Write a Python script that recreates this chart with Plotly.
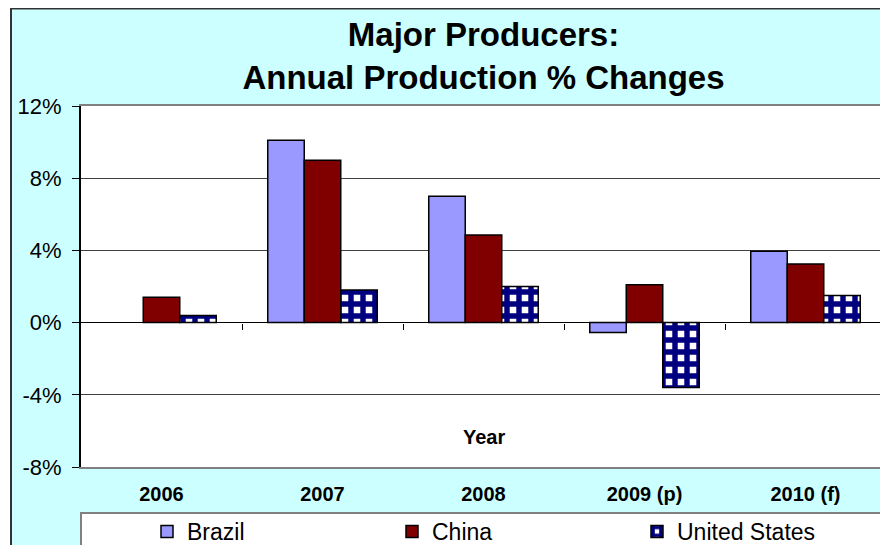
import plotly.graph_objects as go

# data (annual % change)
years = ["2006", "2007", "2008", "2009 (p)", "2010 (f)"]
brazil = [None, 10.1, 7.0, -0.55, 3.95]
china = [1.4, 9.0, 4.85, 2.1, 3.25]
united_states = [0.4, 1.8, 2.0, -3.6, 1.5]

y_ticks = [-8, -4, 0, 4, 8, 12]
y_tick_labels = ["-8%", "-4%", "0%", "4%", "8%", "12%"]

FONT = "Liberation Sans, Arial, sans-serif"

# the page body keeps its default 8px margin, so the figure starts at (8, 8)
# of the 888x545 window; layout is measured in window pixels and shifted
OFF = 8
W, H = 888 - OFF, 545 - OFF
PL, PR, PT, PB = 81 - OFF, 886 - OFF, 106 - OFF, 467 - OFF


def px_x(x):
    # window x pixel -> paper fraction
    return (x - OFF - PL) / (PR - PL)


def px_y(y):
    # window y pixel -> paper fraction
    return (PB - (y - OFF)) / (PB - PT)


fig = go.Figure()

fig.add_trace(
    go.Bar(
        x=years,
        y=brazil,
        name="Brazil",
        marker=dict(color="#9999FF", line=dict(color="black", width=1.5)),
    )
)
fig.add_trace(
    go.Bar(
        x=years,
        y=china,
        name="China",
        marker=dict(color="#800000", line=dict(color="black", width=1.5)),
    )
)
fig.add_trace(
    go.Bar(
        x=years,
        y=united_states,
        name="United States",
        marker=dict(
            color="white",
            line=dict(color="black", width=1.5),
            pattern=dict(
                shape="+",
                fgcolor="#000080",
                bgcolor="white",
                size=12,
                solidity=0.7,
                fillmode="replace",
            ),
        ),
    )
)

# empty trace so the tick-only axis on the zero line gets drawn
fig.add_trace(
    go.Scatter(x=[], y=[], xaxis="x2", showlegend=False, hoverinfo="skip")
)

fig.update_layout(
    width=W,
    height=H,
    margin=dict(l=PL, r=W - PR, t=PT, b=H - PB),
    paper_bgcolor="white",
    plot_bgcolor="rgba(0,0,0,0)",
    font=dict(family=FONT, color="black"),
    barmode="group",
    bargap=0.32,
    bargroupgap=0,
    title=dict(
        text="Major Producers:<br>Annual Production % Changes",
        font=dict(size=33, weight="bold", color="black"),
        x=0.5,
        xref="paper",
        xanchor="center",
        y=1 - 38 / H,
        yref="container",
        yanchor="middle",
    ),
    xaxis=dict(
        type="category",
        showline=True,
        linecolor="#808080",
        linewidth=2,
        mirror=True,
        ticks="",
        showgrid=False,
        tickfont=dict(size=20, weight="bold"),
        ticklabelstandoff=8,
    ),
    xaxis2=dict(
        overlaying="x",
        anchor="free",
        position=px_y(322.6),
        range=[-0.5, len(years) - 0.5],
        tickvals=[i + 0.5 for i in range(len(years) - 1)],
        showticklabels=False,
        ticks="outside",
        ticklen=6,
        tickcolor="black",
        tickwidth=1,
        showgrid=False,
        showline=False,
        zeroline=False,
    ),
    yaxis=dict(
        range=[-8, 12],
        tickvals=y_ticks,
        ticktext=y_tick_labels,
        ticks="outside",
        ticklen=7,
        tickcolor="black",
        tickwidth=1,
        showline=True,
        linecolor="black",
        linewidth=2,
        showgrid=True,
        gridcolor="#404040",
        gridwidth=1,
        zeroline=True,
        zerolinecolor="black",
        zerolinewidth=1,
        tickfont=dict(size=22),
        ticklabelstandoff=6,
    ),
    legend=dict(
        orientation="h",
        xref="container",
        yref="container",
        x=(147 - OFF) / W,
        y=1 - (510 - OFF) / H,
        xanchor="left",
        yanchor="top",
        bgcolor="rgba(0,0,0,0)",
        borderwidth=0,
        font=dict(size=23),
        entrywidth=200,
        traceorder="normal",
    ),
    annotations=[
        dict(
            text="Year",
            x=0.5,
            xref="paper",
            y=px_y(437),
            yref="paper",
            showarrow=False,
            font=dict(size=20, weight="bold"),
            xanchor="center",
            yanchor="middle",
        )
    ],
    shapes=[
        # cyan chart area with dark frame
        dict(
            type="rect",
            xref="paper",
            yref="paper",
            x0=px_x(11),
            x1=px_x(905),
            y0=px_y(565),
            y1=px_y(8.5),
            fillcolor="#CCFFFF",
            line=dict(color="#333333", width=2),
            layer="below",
        ),
        # white plot area
        dict(
            type="rect",
            xref="paper",
            yref="paper",
            x0=0,
            x1=1,
            y0=0,
            y1=1,
            fillcolor="white",
            line=dict(width=0),
            layer="below",
        ),
        # legend box
        dict(
            type="rect",
            xref="paper",
            yref="paper",
            x0=px_x(81),
            x1=px_x(905),
            y0=px_y(565),
            y1=px_y(513),
            fillcolor="white",
            line=dict(color="#808080", width=2),
            layer="below",
        ),
    ],
)

fig.write_html("out.html")
